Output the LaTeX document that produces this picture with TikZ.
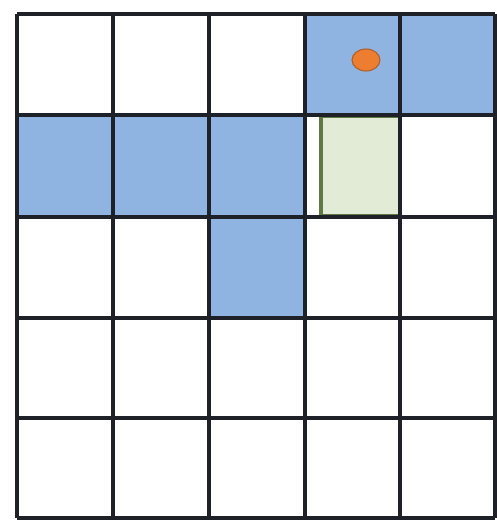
\documentclass[tikz,border=0pt]{standalone}
\usepackage{tikz}
\definecolor{cellblue}{RGB}{143,180,225}
\definecolor{cellgreen}{RGB}{226,235,214}
\definecolor{edgegreen}{RGB}{96,120,70}
\definecolor{dotorange}{RGB}{236,125,49}
\definecolor{gridline}{RGB}{30,34,40}
\begin{document}
\begin{tikzpicture}[x=0.02cm,y=-0.02cm]
\useasboundingbox (0,0) rectangle (497,522);
\fill[white] (0,0) rectangle (497,522);
% blue cells
\fill[cellblue] (305,14) rectangle (495,115);
\fill[cellblue] (17,115) rectangle (305,217);
\fill[cellblue] (209,217) rectangle (305,318);
% green cell
\draw[fill=cellgreen,draw=edgegreen,line width=2pt] (321,116) rectangle (400,216);
% grid
\foreach \x in {17,113,209,305,400,495}
  \draw[gridline,line width=2pt] (\x,14) -- (\x,518);
\foreach \y in {14,115,217,318,418,518}
  \draw[gridline,line width=2pt] (17,\y) -- (495,\y);
% dot
\draw[fill=dotorange,draw=dotorange!75!black,line width=0.6pt] (366,60) ellipse (14 and 11);
\end{tikzpicture}
\end{document}
